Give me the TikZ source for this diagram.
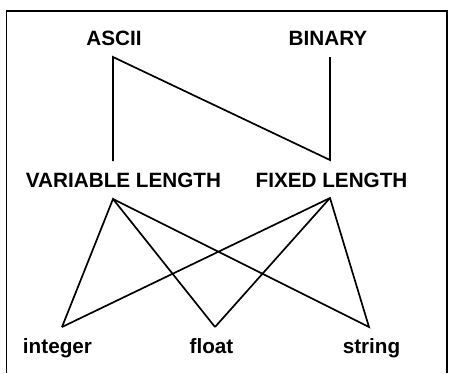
\documentclass[tikz,border=0pt]{standalone}
\usepackage{fontspec}
\setmainfont{Liberation Sans}
\begin{document}
\begin{tikzpicture}[x=1pt,y=-1pt,
  lbl/.style={inner sep=0pt, anchor=base, font=\fontsize{20.7}{24}\selectfont\bfseries},
  conn/.style={line width=1.7pt, line join=miter}]
\useasboundingbox (0,0) rectangle (452,373);
\draw[line width=1.3pt] (6.5,373) -- (6.5,11) -- (447,11) -- (447,373);
\node[lbl] (ascii) at (114,45) {ASCII};
\node[lbl] (binary) at (328,45) {BINARY};
\node[lbl] (vl) at (123.5,187) {VARIABLE LENGTH};
\node[lbl] (fl) at (331.5,187) {FIXED LENGTH};
\node[lbl] (int) at (57.5,353) {integer};
\node[lbl] (flt) at (211.5,353) {float};
\node[lbl] (str) at (371.5,353) {string};
% connector ends
\coordinate (asciiB) at (113,57);
\coordinate (binaryB) at (330,57);
\coordinate (vlT) at (113,161);
\coordinate (flT) at (330,160);
\coordinate (vlB) at (113,199);
\coordinate (flB) at (330,198);
\coordinate (intT) at (62,327);
\coordinate (fltT) at (215,327);
\coordinate (strT) at (369,327);
\draw[conn] (vlT) -- (asciiB) -- (flT) -- (binaryB);
\draw[conn] (intT) -- (vlB) -- (fltT);
\draw[conn] (vlB) -- (strT) -- (flB) -- (intT);
\draw[conn] (flB) -- (fltT);
\end{tikzpicture}
\end{document}
